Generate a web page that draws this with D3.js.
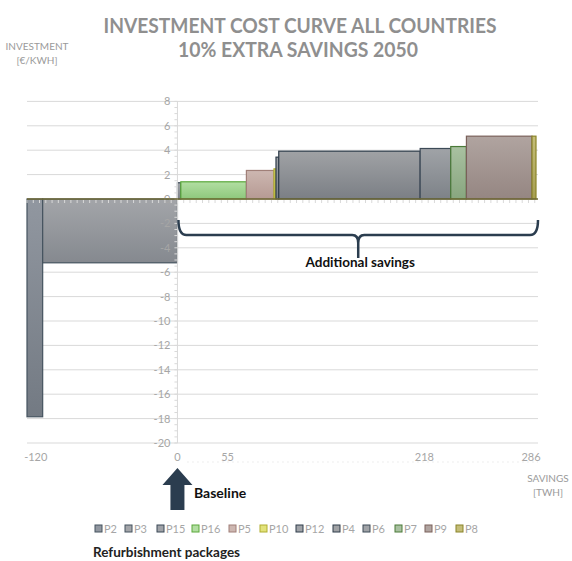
<!DOCTYPE html>
<html><head><meta charset="utf-8">
<script src="https://cdn.jsdelivr.net/npm/d3@7"></script>
<style>body{margin:0;background:#fff}svg{display:block}text{font-family:Lato,"Open Sans",sans-serif}</style>
</head><body><svg id="c" width="572" height="561"></svg>
<script>
const packages = ["P2","P3","P15","P16","P5","P10","P12","P4","P6","P7","P9","P8"];
const savings = [12.5,107.5,2.7,52.3,22,1.6,2.2,112.8,24.4,12.5,52.3,3.2];
const costs = [-17.85,-5.23,1.33,1.41,2.34,2.47,3.43,3.92,4.14,4.3,5.15,5.15];
const fillTop = ["#9197a0","#a3a5a9","#a0a3a8","#b2dea2","#cdb7b1","#e2e27a","#a0a3a8","#a0a2a5","#a0a3a7","#a9c1a1","#b0a4a0","#c4bd78"];
const fillBot = ["#737a83","#85898f","#7e838a","#8ec87c","#b69a93","#c8c64e","#7c8188","#7b7f85","#7d8288","#88a67f","#958682","#a69e52"];
const strokes = ["#45535f","#45535f","#3a4856","#5aa83a","#a07f78","#b0ae30","#2f3d4b","#2f3d4b","#3d4a57","#4a7a38","#7a605a","#8a8428"];
const xLabels = ["-120","0","55","218","286"];
const xLabelAt = [-113,0,40,197,282];
const yTicks = d3.range(-20,9,2);
const xStart = -120;

const svg = d3.select("#c");
const x = d3.scaleLinear().domain([-120,286]).range([27,536]);
const y = d3.scaleLinear().domain([-20,8]).range([443,101.4]);
const plotL = 27, plotR = 538;

// gradients
const defs = svg.append("defs");
packages.forEach((p,i)=>{
  const g = defs.append("linearGradient").attr("id","g"+p).attr("x1",0).attr("y1",0).attr("x2",0).attr("y2",1);
  g.append("stop").attr("offset","0%").attr("stop-color",fillTop[i]);
  g.append("stop").attr("offset","100%").attr("stop-color",fillBot[i]);
});

// gridlines
svg.append("g").selectAll("line").data(yTicks.filter(d=>d!==0)).join("line")
  .attr("x1",plotL).attr("x2",plotR).attr("y1",d=>y(d)).attr("y2",d=>y(d))
  .attr("stroke","#d9d9d9").attr("stroke-width",1);

// bars
let cum = xStart;
const bars = packages.map((p,i)=>{const b={p,x0:cum,x1:cum+savings[i],v:costs[i],i}; cum+=savings[i]; return b;});
svg.append("g").selectAll("rect").data(bars).join("rect")
  .attr("x",d=>x(d.x0)).attr("width",d=>x(d.x1)-x(d.x0))
  .attr("y",d=>y(Math.max(0,d.v))).attr("height",d=>Math.abs(y(d.v)-y(0)))
  .attr("fill",d=>"url(#g"+d.p+")").attr("stroke",d=>strokes[d.i]).attr("stroke-width",1.2);

// y axis (light) with minor ticks
const ax = x(0);
svg.append("line").attr("x1",ax).attr("x2",ax).attr("y1",y(8)).attr("y2",y(-20)).attr("stroke","#d9d9d9").attr("stroke-width",1);
svg.append("g").selectAll("line").data(d3.range(-20,8.01,0.5)).join("line")
  .attr("x1",ax-3).attr("x2",ax).attr("y1",d=>y(d)).attr("y2",d=>y(d)).attr("stroke","#d9d9d9");
svg.append("g").selectAll("text").data(yTicks).join("text")
  .attr("x",ax-7).attr("y",d=>y(d)+4).attr("text-anchor","end")
  .attr("font-size",11).attr("fill","#a6a6a6").text(d=>d);

// x axis line & minor ticks
svg.append("g").selectAll("line").data(d3.range(-120,287,5)).join("line")
  .attr("x1",d=>x(d)).attr("x2",d=>x(d)).attr("y1",y(0)+1).attr("y2",y(0)+4).attr("stroke","#d9d9d9");
svg.append("line").attr("x1",plotL).attr("x2",plotR).attr("y1",y(0)).attr("y2",y(0)).attr("stroke","#6f6a36").attr("stroke-width",1.5);

// x labels
svg.append("g").selectAll("text").data(xLabels).join("text")
  .attr("x",(d,i)=>x(xLabelAt[i])).attr("y",461).attr("text-anchor","middle")
  .attr("font-size",11).attr("fill","#a6a6a6").text(d=>d);
svg.append("line").attr("x1",x(8)).attr("x2",plotR).attr("y1",462).attr("y2",462)
  .attr("stroke","#dcdcdc").attr("stroke-dasharray","1,4");

// titles
svg.append("text").attr("x",300).attr("y",33).attr("text-anchor","middle").attr("font-size",21).attr("font-weight","bold").attr("fill","#8f8f8f")
  .attr("textLength",393).attr("lengthAdjust","spacingAndGlyphs").text("INVESTMENT COST CURVE ALL COUNTRIES");
svg.append("text").attr("x",298).attr("y",57).attr("text-anchor","middle").attr("font-size",21).attr("font-weight","bold").attr("fill","#8f8f8f")
  .attr("textLength",240).attr("lengthAdjust","spacingAndGlyphs").text("10% EXTRA SAVINGS 2050");
svg.append("text").attr("x",37).attr("y",50).attr("text-anchor","middle").attr("font-size",10).attr("fill","#9a9a9a").text("INVESTMENT");
svg.append("text").attr("x",37).attr("y",64).attr("text-anchor","middle").attr("font-size",10).attr("fill","#9a9a9a").text("[€/KWH]");
svg.append("text").attr("x",548).attr("y",482).attr("text-anchor","middle").attr("font-size",10).attr("fill","#9a9a9a").text("SAVINGS");
svg.append("text").attr("x",548).attr("y",496).attr("text-anchor","middle").attr("font-size",10).attr("fill","#9a9a9a").text("[TWH]");

// brace
const bx0 = x(0)+1, bx1 = plotR, bm = (bx0+bx1)/2, by = 235;
svg.append("path").attr("d",
  `M${bx0},220 Q${bx0},${by} ${bx0+8},${by} L${bm-6},${by} Q${bm},${by} ${bm},${by+8} L${bm},258 M${bm},${by+8} Q${bm},${by} ${bm+6},${by} L${bx1-8},${by} Q${bx1},${by} ${bx1},220`)
  .attr("fill","none").attr("stroke","#2b3d4f").attr("stroke-width",2.5);
svg.append("text").attr("x",bm+2).attr("y",267).attr("text-anchor","middle").attr("font-size",13.5).attr("font-weight","bold").attr("fill","#111").text("Additional savings");

// baseline arrow
svg.append("path").attr("d",`M${ax},468 L${ax+15},485 L${ax+7},485 L${ax+7},510 L${ax-7},510 L${ax-7},485 L${ax-15},485 Z`).attr("fill","#2b3d4f");
svg.append("text").attr("x",194).attr("y",498).attr("font-size",14).attr("font-weight","bold").attr("fill","#111").text("Baseline");

// legend
const legX = [95,125,157,192,229,260,296,333,363,395,425,456];
const lg = svg.append("g").selectAll("g").data(packages).join("g").attr("transform",(d,i)=>`translate(${legX[i]},529)`);
lg.append("rect").attr("x",0).attr("y",-4).attr("width",7).attr("height",7).attr("fill",(d,i)=>fillTop[i]).attr("stroke",(d,i)=>strokes[i]).attr("stroke-width",1);
lg.append("text").attr("x",9).attr("y",4).attr("font-size",11).attr("fill","#a6a6a6").text(d=>d);
svg.append("text").attr("x",93).attr("y",557).attr("font-size",13.5).attr("font-weight","bold").attr("fill","#222").text("Refurbishment packages");
</script></body></html>
